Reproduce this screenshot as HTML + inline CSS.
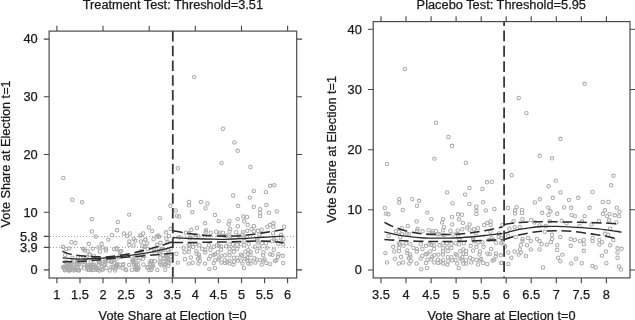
<!DOCTYPE html>
<html lang="en"><head><meta charset="utf-8"><title>Treatment and Placebo Tests</title>
<style>html,body{margin:0;padding:0;background:#fff;overflow:hidden}svg{display:block;will-change:transform}text{font-family:"Liberation Sans",sans-serif}</style></head>
<body>
<svg width="635" height="320" viewBox="0 0 635 320">
<rect width="635" height="320" fill="#fff"/>
<defs><clipPath id="cl"><rect x="49.1" y="31.1" width="247.6" height="246.9"/></clipPath><clipPath id="cr"><rect x="373.2" y="21.6" width="256.8" height="256.3"/></clipPath></defs>
<g fill="none" stroke="#ababab" stroke-width="1.05" clip-path="url(#cl)">
<circle cx="63.3" cy="177.9" r="1.7"/>
<circle cx="72.4" cy="199.7" r="1.7"/>
<circle cx="82.1" cy="202.3" r="1.7"/>
<circle cx="91.8" cy="219.1" r="1.7"/>
<circle cx="117.8" cy="221.9" r="1.7"/>
<circle cx="129.2" cy="214.6" r="1.7"/>
<circle cx="159.9" cy="218.1" r="1.7"/>
<circle cx="170.4" cy="205.8" r="1.7"/>
<circle cx="91.8" cy="231.5" r="1.7"/>
<circle cx="117.0" cy="230.3" r="1.7"/>
<circle cx="124.0" cy="233.5" r="1.7"/>
<circle cx="129.9" cy="233.5" r="1.7"/>
<circle cx="148.8" cy="227.5" r="1.7"/>
<circle cx="152.2" cy="230.9" r="1.7"/>
<circle cx="143.2" cy="233.5" r="1.7"/>
<circle cx="140.3" cy="235.5" r="1.7"/>
<circle cx="111.9" cy="234.9" r="1.7"/>
<circle cx="95.6" cy="236.5" r="1.7"/>
<circle cx="127.4" cy="235.9" r="1.7"/>
<circle cx="156.7" cy="236.5" r="1.7"/>
<circle cx="166.1" cy="232.3" r="1.7"/>
<circle cx="169.0" cy="235.9" r="1.7"/>
<circle cx="170.6" cy="228.9" r="1.7"/>
<circle cx="71.4" cy="242.2" r="1.7"/>
<circle cx="75.4" cy="242.8" r="1.7"/>
<circle cx="88.7" cy="243.8" r="1.7"/>
<circle cx="101.6" cy="243.8" r="1.7"/>
<circle cx="62.9" cy="246.8" r="1.7"/>
<circle cx="129.3" cy="241.4" r="1.7"/>
<circle cx="135.3" cy="240.8" r="1.7"/>
<circle cx="140.9" cy="241.4" r="1.7"/>
<circle cx="145.2" cy="239.8" r="1.7"/>
<circle cx="147.2" cy="243.4" r="1.7"/>
<circle cx="129.3" cy="244.8" r="1.7"/>
<circle cx="157.1" cy="244.8" r="1.7"/>
<circle cx="98.6" cy="247.4" r="1.7"/>
<circle cx="102.6" cy="247.4" r="1.7"/>
<circle cx="97.7" cy="269.7" r="1.7"/>
<circle cx="70.3" cy="270.1" r="1.7"/>
<circle cx="68.8" cy="270.4" r="1.7"/>
<circle cx="109.7" cy="270.4" r="1.7"/>
<circle cx="75.9" cy="269.8" r="1.7"/>
<circle cx="67.5" cy="270.1" r="1.7"/>
<circle cx="78.1" cy="270.1" r="1.7"/>
<circle cx="151.3" cy="269.8" r="1.7"/>
<circle cx="132.0" cy="269.8" r="1.7"/>
<circle cx="69.3" cy="270.2" r="1.7"/>
<circle cx="136.5" cy="270.1" r="1.7"/>
<circle cx="126.2" cy="270.1" r="1.7"/>
<circle cx="89.0" cy="269.9" r="1.7"/>
<circle cx="75.3" cy="269.6" r="1.7"/>
<circle cx="79.0" cy="270.4" r="1.7"/>
<circle cx="96.6" cy="269.8" r="1.7"/>
<circle cx="125.6" cy="269.5" r="1.7"/>
<circle cx="165.3" cy="269.7" r="1.7"/>
<circle cx="69.0" cy="269.7" r="1.7"/>
<circle cx="93.4" cy="269.7" r="1.7"/>
<circle cx="64.9" cy="270.3" r="1.7"/>
<circle cx="75.2" cy="269.6" r="1.7"/>
<circle cx="76.5" cy="270.0" r="1.7"/>
<circle cx="157.3" cy="270.0" r="1.7"/>
<circle cx="92.8" cy="270.1" r="1.7"/>
<circle cx="78.9" cy="270.2" r="1.7"/>
<circle cx="87.9" cy="269.8" r="1.7"/>
<circle cx="91.1" cy="270.0" r="1.7"/>
<circle cx="102.7" cy="269.4" r="1.7"/>
<circle cx="137.6" cy="269.8" r="1.7"/>
<circle cx="136.1" cy="269.4" r="1.7"/>
<circle cx="149.3" cy="270.0" r="1.7"/>
<circle cx="73.7" cy="270.4" r="1.7"/>
<circle cx="69.8" cy="270.3" r="1.7"/>
<circle cx="99.5" cy="270.5" r="1.7"/>
<circle cx="78.9" cy="270.1" r="1.7"/>
<circle cx="65.2" cy="269.8" r="1.7"/>
<circle cx="78.6" cy="270.1" r="1.7"/>
<circle cx="102.1" cy="269.5" r="1.7"/>
<circle cx="115.1" cy="270.4" r="1.7"/>
<circle cx="99.8" cy="262.7" r="1.7"/>
<circle cx="80.0" cy="261.9" r="1.7"/>
<circle cx="120.0" cy="264.7" r="1.7"/>
<circle cx="65.4" cy="261.7" r="1.7"/>
<circle cx="90.9" cy="267.3" r="1.7"/>
<circle cx="147.3" cy="266.9" r="1.7"/>
<circle cx="87.1" cy="266.0" r="1.7"/>
<circle cx="65.6" cy="266.5" r="1.7"/>
<circle cx="90.7" cy="261.8" r="1.7"/>
<circle cx="102.2" cy="266.9" r="1.7"/>
<circle cx="83.9" cy="264.1" r="1.7"/>
<circle cx="114.7" cy="262.9" r="1.7"/>
<circle cx="71.7" cy="262.2" r="1.7"/>
<circle cx="114.5" cy="263.0" r="1.7"/>
<circle cx="168.3" cy="265.7" r="1.7"/>
<circle cx="81.0" cy="267.4" r="1.7"/>
<circle cx="78.4" cy="261.7" r="1.7"/>
<circle cx="134.0" cy="264.7" r="1.7"/>
<circle cx="76.7" cy="261.7" r="1.7"/>
<circle cx="133.2" cy="262.0" r="1.7"/>
<circle cx="152.4" cy="266.7" r="1.7"/>
<circle cx="94.3" cy="264.4" r="1.7"/>
<circle cx="90.7" cy="267.5" r="1.7"/>
<circle cx="161.6" cy="265.3" r="1.7"/>
<circle cx="117.1" cy="264.8" r="1.7"/>
<circle cx="64.5" cy="267.2" r="1.7"/>
<circle cx="62.9" cy="267.3" r="1.7"/>
<circle cx="123.0" cy="264.9" r="1.7"/>
<circle cx="74.0" cy="266.7" r="1.7"/>
<circle cx="92.6" cy="264.9" r="1.7"/>
<circle cx="129.2" cy="264.9" r="1.7"/>
<circle cx="137.9" cy="264.8" r="1.7"/>
<circle cx="165.1" cy="264.6" r="1.7"/>
<circle cx="77.4" cy="265.4" r="1.7"/>
<circle cx="70.3" cy="268.0" r="1.7"/>
<circle cx="160.1" cy="263.5" r="1.7"/>
<circle cx="134.3" cy="262.3" r="1.7"/>
<circle cx="167.8" cy="261.9" r="1.7"/>
<circle cx="105.8" cy="261.6" r="1.7"/>
<circle cx="153.1" cy="265.5" r="1.7"/>
<circle cx="118.6" cy="267.1" r="1.7"/>
<circle cx="97.1" cy="268.3" r="1.7"/>
<circle cx="122.8" cy="268.3" r="1.7"/>
<circle cx="98.5" cy="264.9" r="1.7"/>
<circle cx="73.8" cy="268.2" r="1.7"/>
<circle cx="147.3" cy="267.6" r="1.7"/>
<circle cx="151.6" cy="267.4" r="1.7"/>
<circle cx="138.7" cy="268.1" r="1.7"/>
<circle cx="137.4" cy="268.0" r="1.7"/>
<circle cx="149.7" cy="262.5" r="1.7"/>
<circle cx="69.7" cy="265.3" r="1.7"/>
<circle cx="99.4" cy="262.0" r="1.7"/>
<circle cx="91.6" cy="264.8" r="1.7"/>
<circle cx="88.4" cy="267.3" r="1.7"/>
<circle cx="67.9" cy="266.3" r="1.7"/>
<circle cx="95.7" cy="266.4" r="1.7"/>
<circle cx="116.9" cy="266.1" r="1.7"/>
<circle cx="64.4" cy="268.4" r="1.7"/>
<circle cx="83.1" cy="262.0" r="1.7"/>
<circle cx="74.0" cy="265.5" r="1.7"/>
<circle cx="105.3" cy="263.7" r="1.7"/>
<circle cx="169.4" cy="262.7" r="1.7"/>
<circle cx="106.5" cy="268.1" r="1.7"/>
<circle cx="76.6" cy="263.3" r="1.7"/>
<circle cx="90.3" cy="267.9" r="1.7"/>
<circle cx="135.5" cy="266.8" r="1.7"/>
<circle cx="94.4" cy="267.4" r="1.7"/>
<circle cx="111.0" cy="261.8" r="1.7"/>
<circle cx="96.2" cy="268.5" r="1.7"/>
<circle cx="104.0" cy="265.0" r="1.7"/>
<circle cx="84.3" cy="268.4" r="1.7"/>
<circle cx="91.2" cy="265.7" r="1.7"/>
<circle cx="67.0" cy="266.4" r="1.7"/>
<circle cx="87.8" cy="264.8" r="1.7"/>
<circle cx="104.9" cy="261.6" r="1.7"/>
<circle cx="78.7" cy="264.0" r="1.7"/>
<circle cx="67.2" cy="262.3" r="1.7"/>
<circle cx="150.9" cy="264.8" r="1.7"/>
<circle cx="87.5" cy="267.5" r="1.7"/>
<circle cx="101.7" cy="262.7" r="1.7"/>
<circle cx="123.3" cy="264.1" r="1.7"/>
<circle cx="136.6" cy="268.4" r="1.7"/>
<circle cx="117.2" cy="263.9" r="1.7"/>
<circle cx="69.6" cy="266.7" r="1.7"/>
<circle cx="70.5" cy="263.4" r="1.7"/>
<circle cx="84.8" cy="261.7" r="1.7"/>
<circle cx="116.2" cy="265.1" r="1.7"/>
<circle cx="70.9" cy="266.7" r="1.7"/>
<circle cx="143.4" cy="264.5" r="1.7"/>
<circle cx="63.8" cy="266.6" r="1.7"/>
<circle cx="136.0" cy="264.9" r="1.7"/>
<circle cx="113.0" cy="267.6" r="1.7"/>
<circle cx="159.8" cy="261.7" r="1.7"/>
<circle cx="164.4" cy="265.3" r="1.7"/>
<circle cx="111.4" cy="267.0" r="1.7"/>
<circle cx="165.4" cy="264.4" r="1.7"/>
<circle cx="77.9" cy="261.9" r="1.7"/>
<circle cx="76.9" cy="264.9" r="1.7"/>
<circle cx="115.4" cy="268.4" r="1.7"/>
<circle cx="116.0" cy="266.4" r="1.7"/>
<circle cx="77.8" cy="257.2" r="1.7"/>
<circle cx="154.0" cy="251.4" r="1.7"/>
<circle cx="153.8" cy="249.0" r="1.7"/>
<circle cx="94.0" cy="256.2" r="1.7"/>
<circle cx="171.2" cy="256.6" r="1.7"/>
<circle cx="109.1" cy="260.9" r="1.7"/>
<circle cx="89.6" cy="254.6" r="1.7"/>
<circle cx="83.1" cy="248.6" r="1.7"/>
<circle cx="158.7" cy="253.0" r="1.7"/>
<circle cx="132.6" cy="260.9" r="1.7"/>
<circle cx="163.4" cy="255.1" r="1.7"/>
<circle cx="99.9" cy="251.5" r="1.7"/>
<circle cx="168.8" cy="252.6" r="1.7"/>
<circle cx="105.4" cy="259.3" r="1.7"/>
<circle cx="116.6" cy="249.2" r="1.7"/>
<circle cx="171.0" cy="259.6" r="1.7"/>
<circle cx="83.4" cy="256.9" r="1.7"/>
<circle cx="72.4" cy="258.0" r="1.7"/>
<circle cx="144.1" cy="255.9" r="1.7"/>
<circle cx="119.5" cy="256.9" r="1.7"/>
<circle cx="69.2" cy="248.4" r="1.7"/>
<circle cx="86.0" cy="258.2" r="1.7"/>
<circle cx="106.0" cy="248.6" r="1.7"/>
<circle cx="154.9" cy="261.2" r="1.7"/>
<circle cx="160.0" cy="253.6" r="1.7"/>
<circle cx="163.4" cy="249.9" r="1.7"/>
<circle cx="168.3" cy="260.1" r="1.7"/>
<circle cx="141.0" cy="251.2" r="1.7"/>
<circle cx="112.2" cy="261.0" r="1.7"/>
<circle cx="147.6" cy="249.1" r="1.7"/>
<circle cx="132.7" cy="259.8" r="1.7"/>
<circle cx="138.5" cy="260.6" r="1.7"/>
<circle cx="119.6" cy="256.3" r="1.7"/>
<circle cx="114.2" cy="258.2" r="1.7"/>
<circle cx="167.1" cy="257.4" r="1.7"/>
<circle cx="135.9" cy="258.0" r="1.7"/>
<circle cx="87.1" cy="256.9" r="1.7"/>
<circle cx="142.9" cy="258.8" r="1.7"/>
<circle cx="168.1" cy="250.4" r="1.7"/>
<circle cx="87.6" cy="251.2" r="1.7"/>
<circle cx="116.4" cy="258.5" r="1.7"/>
<circle cx="165.8" cy="256.2" r="1.7"/>
<circle cx="77.9" cy="260.7" r="1.7"/>
<circle cx="158.7" cy="248.0" r="1.7"/>
<circle cx="163.9" cy="259.0" r="1.7"/>
<circle cx="164.4" cy="261.1" r="1.7"/>
<circle cx="134.8" cy="256.5" r="1.7"/>
<circle cx="98.6" cy="261.5" r="1.7"/>
<circle cx="92.9" cy="248.6" r="1.7"/>
<circle cx="85.0" cy="250.4" r="1.7"/>
<circle cx="152.0" cy="260.9" r="1.7"/>
<circle cx="114.0" cy="249.1" r="1.7"/>
<circle cx="83.5" cy="249.4" r="1.7"/>
<circle cx="150.9" cy="261.0" r="1.7"/>
<circle cx="66.2" cy="249.1" r="1.7"/>
<circle cx="160.3" cy="257.8" r="1.7"/>
<circle cx="166.7" cy="258.0" r="1.7"/>
<circle cx="140.5" cy="257.8" r="1.7"/>
<circle cx="162.3" cy="248.7" r="1.7"/>
<circle cx="65.1" cy="255.1" r="1.7"/>
<circle cx="166.6" cy="256.3" r="1.7"/>
<circle cx="89.8" cy="254.8" r="1.7"/>
<circle cx="166.4" cy="238.7" r="1.7"/>
<circle cx="153.5" cy="239.2" r="1.7"/>
<circle cx="144.5" cy="247.1" r="1.7"/>
<circle cx="108.4" cy="239.6" r="1.7"/>
<circle cx="119.9" cy="252.0" r="1.7"/>
<circle cx="140.8" cy="235.6" r="1.7"/>
<circle cx="121.1" cy="250.9" r="1.7"/>
<circle cx="133.6" cy="245.4" r="1.7"/>
<circle cx="145.4" cy="239.6" r="1.7"/>
<circle cx="160.9" cy="250.5" r="1.7"/>
<circle cx="160.5" cy="242.8" r="1.7"/>
<circle cx="116.7" cy="248.3" r="1.7"/>
<circle cx="142.5" cy="245.7" r="1.7"/>
<circle cx="170.8" cy="248.6" r="1.7"/>
<circle cx="158.3" cy="235.4" r="1.7"/>
<circle cx="159.0" cy="236.8" r="1.7"/>
<circle cx="105.8" cy="250.5" r="1.7"/>
<circle cx="133.7" cy="239.1" r="1.7"/>
<circle cx="167.6" cy="242.3" r="1.7"/>
<circle cx="145.4" cy="246.2" r="1.7"/>
<circle cx="194.2" cy="77.1" r="1.7"/>
<circle cx="222.9" cy="128.7" r="1.7"/>
<circle cx="234.4" cy="142.4" r="1.7"/>
<circle cx="237.7" cy="150.8" r="1.7"/>
<circle cx="177.9" cy="168.2" r="1.7"/>
<circle cx="221.5" cy="163.1" r="1.7"/>
<circle cx="250.4" cy="167.0" r="1.7"/>
<circle cx="270.0" cy="185.8" r="1.7"/>
<circle cx="274.3" cy="185.3" r="1.7"/>
<circle cx="253.8" cy="191.1" r="1.7"/>
<circle cx="265.8" cy="192.1" r="1.7"/>
<circle cx="233.2" cy="195.5" r="1.7"/>
<circle cx="249.8" cy="197.6" r="1.7"/>
<circle cx="189.1" cy="201.9" r="1.7"/>
<circle cx="189.1" cy="205.3" r="1.7"/>
<circle cx="201.1" cy="201.9" r="1.7"/>
<circle cx="207.4" cy="203.5" r="1.7"/>
<circle cx="205.5" cy="208.2" r="1.7"/>
<circle cx="238.1" cy="205.9" r="1.7"/>
<circle cx="266.4" cy="204.9" r="1.7"/>
<circle cx="253.8" cy="206.7" r="1.7"/>
<circle cx="260.2" cy="209.2" r="1.7"/>
<circle cx="276.8" cy="211.4" r="1.7"/>
<circle cx="268.9" cy="212.7" r="1.7"/>
<circle cx="260.2" cy="213.1" r="1.7"/>
<circle cx="260.2" cy="216.1" r="1.7"/>
<circle cx="175.7" cy="210.4" r="1.7"/>
<circle cx="192.3" cy="212.3" r="1.7"/>
<circle cx="176.8" cy="215.7" r="1.7"/>
<circle cx="179.1" cy="216.5" r="1.7"/>
<circle cx="214.9" cy="214.9" r="1.7"/>
<circle cx="243.2" cy="216.5" r="1.7"/>
<circle cx="247.0" cy="216.9" r="1.7"/>
<circle cx="218.7" cy="221.1" r="1.7"/>
<circle cx="205.1" cy="223.3" r="1.7"/>
<circle cx="197.0" cy="227.7" r="1.7"/>
<circle cx="185.9" cy="232.7" r="1.7"/>
<circle cx="188.8" cy="233.2" r="1.7"/>
<circle cx="191.7" cy="235.7" r="1.7"/>
<circle cx="197.9" cy="235.7" r="1.7"/>
<circle cx="205.6" cy="232.2" r="1.7"/>
<circle cx="210.7" cy="232.7" r="1.7"/>
<circle cx="216.1" cy="231.7" r="1.7"/>
<circle cx="219.9" cy="232.7" r="1.7"/>
<circle cx="223.0" cy="232.7" r="1.7"/>
<circle cx="179.2" cy="237.2" r="1.7"/>
<circle cx="226.2" cy="235.7" r="1.7"/>
<circle cx="183.5" cy="247.7" r="1.7"/>
<circle cx="176.4" cy="253.7" r="1.7"/>
<circle cx="184.5" cy="252.2" r="1.7"/>
<circle cx="188.8" cy="248.7" r="1.7"/>
<circle cx="193.1" cy="246.7" r="1.7"/>
<circle cx="188.8" cy="251.7" r="1.7"/>
<circle cx="196.5" cy="251.2" r="1.7"/>
<circle cx="196.5" cy="253.7" r="1.7"/>
<circle cx="202.2" cy="248.7" r="1.7"/>
<circle cx="205.3" cy="249.7" r="1.7"/>
<circle cx="205.3" cy="252.2" r="1.7"/>
<circle cx="208.9" cy="245.2" r="1.7"/>
<circle cx="213.7" cy="246.7" r="1.7"/>
<circle cx="221.2" cy="246.4" r="1.7"/>
<circle cx="221.2" cy="249.7" r="1.7"/>
<circle cx="226.2" cy="246.2" r="1.7"/>
<circle cx="215.2" cy="254.2" r="1.7"/>
<circle cx="210.4" cy="256.2" r="1.7"/>
<circle cx="221.4" cy="255.7" r="1.7"/>
<circle cx="225.2" cy="255.2" r="1.7"/>
<circle cx="199.4" cy="257.2" r="1.7"/>
<circle cx="197.9" cy="258.7" r="1.7"/>
<circle cx="185.0" cy="259.2" r="1.7"/>
<circle cx="199.8" cy="261.1" r="1.7"/>
<circle cx="177.8" cy="262.6" r="1.7"/>
<circle cx="188.8" cy="263.6" r="1.7"/>
<circle cx="198.4" cy="263.6" r="1.7"/>
<circle cx="205.1" cy="263.6" r="1.7"/>
<circle cx="213.7" cy="263.1" r="1.7"/>
<circle cx="215.2" cy="260.1" r="1.7"/>
<circle cx="218.5" cy="259.6" r="1.7"/>
<circle cx="221.4" cy="262.6" r="1.7"/>
<circle cx="224.7" cy="260.1" r="1.7"/>
<circle cx="225.2" cy="263.1" r="1.7"/>
<circle cx="209.4" cy="269.1" r="1.7"/>
<circle cx="214.9" cy="268.1" r="1.7"/>
<circle cx="199.4" cy="245.2" r="1.7"/>
<circle cx="195.5" cy="244.2" r="1.7"/>
<circle cx="189.8" cy="245.2" r="1.7"/>
<circle cx="237.7" cy="219.1" r="1.7"/>
<circle cx="229.5" cy="221.1" r="1.7"/>
<circle cx="228.6" cy="224.3" r="1.7"/>
<circle cx="244.1" cy="221.3" r="1.7"/>
<circle cx="247.7" cy="224.8" r="1.7"/>
<circle cx="237.9" cy="226.2" r="1.7"/>
<circle cx="253.9" cy="226.2" r="1.7"/>
<circle cx="251.6" cy="229.2" r="1.7"/>
<circle cx="247.2" cy="230.7" r="1.7"/>
<circle cx="253.9" cy="231.2" r="1.7"/>
<circle cx="242.9" cy="232.2" r="1.7"/>
<circle cx="236.2" cy="232.2" r="1.7"/>
<circle cx="229.5" cy="231.7" r="1.7"/>
<circle cx="261.6" cy="229.7" r="1.7"/>
<circle cx="267.4" cy="226.7" r="1.7"/>
<circle cx="270.2" cy="224.8" r="1.7"/>
<circle cx="273.4" cy="223.3" r="1.7"/>
<circle cx="273.4" cy="226.7" r="1.7"/>
<circle cx="273.1" cy="233.2" r="1.7"/>
<circle cx="284.1" cy="226.7" r="1.7"/>
<circle cx="280.8" cy="238.2" r="1.7"/>
<circle cx="283.2" cy="239.2" r="1.7"/>
<circle cx="229.5" cy="244.2" r="1.7"/>
<circle cx="232.9" cy="244.2" r="1.7"/>
<circle cx="237.2" cy="244.7" r="1.7"/>
<circle cx="241.0" cy="244.2" r="1.7"/>
<circle cx="229.5" cy="248.7" r="1.7"/>
<circle cx="229.5" cy="252.2" r="1.7"/>
<circle cx="229.5" cy="255.2" r="1.7"/>
<circle cx="233.4" cy="248.2" r="1.7"/>
<circle cx="233.8" cy="251.7" r="1.7"/>
<circle cx="237.2" cy="248.7" r="1.7"/>
<circle cx="233.8" cy="257.7" r="1.7"/>
<circle cx="237.2" cy="257.7" r="1.7"/>
<circle cx="229.5" cy="260.6" r="1.7"/>
<circle cx="229.5" cy="263.6" r="1.7"/>
<circle cx="233.4" cy="264.6" r="1.7"/>
<circle cx="237.9" cy="260.6" r="1.7"/>
<circle cx="241.0" cy="254.7" r="1.7"/>
<circle cx="241.0" cy="260.6" r="1.7"/>
<circle cx="242.5" cy="263.6" r="1.7"/>
<circle cx="243.9" cy="268.1" r="1.7"/>
<circle cx="245.3" cy="251.7" r="1.7"/>
<circle cx="248.2" cy="250.2" r="1.7"/>
<circle cx="250.6" cy="251.7" r="1.7"/>
<circle cx="248.2" cy="254.2" r="1.7"/>
<circle cx="250.6" cy="254.7" r="1.7"/>
<circle cx="247.2" cy="257.7" r="1.7"/>
<circle cx="247.2" cy="260.6" r="1.7"/>
<circle cx="250.6" cy="260.6" r="1.7"/>
<circle cx="248.2" cy="263.6" r="1.7"/>
<circle cx="250.6" cy="263.6" r="1.7"/>
<circle cx="254.9" cy="246.7" r="1.7"/>
<circle cx="260.2" cy="247.7" r="1.7"/>
<circle cx="266.7" cy="247.7" r="1.7"/>
<circle cx="273.8" cy="249.7" r="1.7"/>
<circle cx="278.4" cy="243.7" r="1.7"/>
<circle cx="283.2" cy="244.2" r="1.7"/>
<circle cx="257.1" cy="251.2" r="1.7"/>
<circle cx="263.5" cy="252.2" r="1.7"/>
<circle cx="263.0" cy="255.2" r="1.7"/>
<circle cx="270.2" cy="254.2" r="1.7"/>
<circle cx="278.4" cy="254.2" r="1.7"/>
<circle cx="256.8" cy="259.6" r="1.7"/>
<circle cx="260.2" cy="260.1" r="1.7"/>
<circle cx="263.5" cy="260.6" r="1.7"/>
<circle cx="255.4" cy="262.6" r="1.7"/>
<circle cx="261.6" cy="264.6" r="1.7"/>
<circle cx="266.4" cy="263.1" r="1.7"/>
<circle cx="270.2" cy="264.1" r="1.7"/>
<circle cx="276.5" cy="260.1" r="1.7"/>
<circle cx="283.2" cy="263.1" r="1.7"/>
<circle cx="254.4" cy="258.2" r="1.7"/>
<circle cx="248.7" cy="244.2" r="1.7"/>
<circle cx="258.3" cy="242.7" r="1.7"/>
<circle cx="262.1" cy="243.2" r="1.7"/>
<circle cx="265.9" cy="243.2" r="1.7"/>
<circle cx="245.4" cy="259.0" r="1.7"/>
<circle cx="210.4" cy="249.7" r="1.7"/>
<circle cx="208.8" cy="259.0" r="1.7"/>
<circle cx="234.2" cy="261.7" r="1.7"/>
<circle cx="217.7" cy="252.2" r="1.7"/>
<circle cx="219.3" cy="257.4" r="1.7"/>
<circle cx="278.0" cy="256.8" r="1.7"/>
<circle cx="213.6" cy="254.8" r="1.7"/>
<circle cx="282.7" cy="255.8" r="1.7"/>
<circle cx="272.4" cy="254.7" r="1.7"/>
<circle cx="218.9" cy="245.7" r="1.7"/>
<circle cx="192.6" cy="262.7" r="1.7"/>
<circle cx="244.2" cy="245.1" r="1.7"/>
<circle cx="242.2" cy="255.7" r="1.7"/>
<circle cx="190.8" cy="257.4" r="1.7"/>
<circle cx="275.0" cy="260.8" r="1.7"/>
<circle cx="188.7" cy="244.5" r="1.7"/>
<circle cx="227.2" cy="261.9" r="1.7"/>
<circle cx="216.9" cy="245.2" r="1.7"/>
<circle cx="199.0" cy="255.0" r="1.7"/>
<circle cx="264.6" cy="259.4" r="1.7"/>
<circle cx="219.3" cy="234.5" r="1.7"/>
<circle cx="190.0" cy="238.2" r="1.7"/>
<circle cx="272.1" cy="241.1" r="1.7"/>
<circle cx="257.3" cy="241.1" r="1.7"/>
<circle cx="243.4" cy="237.4" r="1.7"/>
<circle cx="238.7" cy="235.7" r="1.7"/>
<circle cx="224.3" cy="235.6" r="1.7"/>
<circle cx="242.6" cy="234.8" r="1.7"/>
<circle cx="257.9" cy="230.8" r="1.7"/>
<circle cx="196.0" cy="235.1" r="1.7"/>
<circle cx="244.4" cy="240.5" r="1.7"/>
<circle cx="259.4" cy="234.5" r="1.7"/>
<circle cx="230.4" cy="236.4" r="1.7"/>
<circle cx="191.3" cy="229.8" r="1.7"/>
<circle cx="281.1" cy="234.8" r="1.7"/>
<circle cx="274.1" cy="239.3" r="1.7"/>
<circle cx="275.7" cy="240.7" r="1.7"/>
<circle cx="257.2" cy="239.4" r="1.7"/>
<circle cx="206.1" cy="230.3" r="1.7"/>
<circle cx="230.2" cy="228.9" r="1.7"/>
</g>
<g fill="none" stroke="#ababab" stroke-width="1.05" clip-path="url(#cr)">
<circle cx="404.8" cy="68.9" r="1.7"/>
<circle cx="435.9" cy="122.7" r="1.7"/>
<circle cx="448.4" cy="137.0" r="1.7"/>
<circle cx="452.0" cy="145.8" r="1.7"/>
<circle cx="387.1" cy="163.9" r="1.7"/>
<circle cx="434.4" cy="158.6" r="1.7"/>
<circle cx="465.8" cy="162.7" r="1.7"/>
<circle cx="487.0" cy="182.3" r="1.7"/>
<circle cx="491.8" cy="181.7" r="1.7"/>
<circle cx="469.4" cy="187.9" r="1.7"/>
<circle cx="482.5" cy="188.9" r="1.7"/>
<circle cx="447.1" cy="192.4" r="1.7"/>
<circle cx="465.1" cy="194.6" r="1.7"/>
<circle cx="399.2" cy="199.1" r="1.7"/>
<circle cx="399.2" cy="202.6" r="1.7"/>
<circle cx="412.3" cy="199.1" r="1.7"/>
<circle cx="419.1" cy="200.8" r="1.7"/>
<circle cx="417.0" cy="205.7" r="1.7"/>
<circle cx="452.5" cy="203.2" r="1.7"/>
<circle cx="483.2" cy="202.2" r="1.7"/>
<circle cx="469.4" cy="204.0" r="1.7"/>
<circle cx="476.4" cy="206.7" r="1.7"/>
<circle cx="494.4" cy="209.0" r="1.7"/>
<circle cx="485.8" cy="210.4" r="1.7"/>
<circle cx="476.4" cy="210.8" r="1.7"/>
<circle cx="476.4" cy="213.9" r="1.7"/>
<circle cx="384.7" cy="207.9" r="1.7"/>
<circle cx="402.7" cy="210.0" r="1.7"/>
<circle cx="385.9" cy="213.5" r="1.7"/>
<circle cx="388.4" cy="214.3" r="1.7"/>
<circle cx="427.3" cy="212.6" r="1.7"/>
<circle cx="458.0" cy="214.3" r="1.7"/>
<circle cx="462.1" cy="214.7" r="1.7"/>
<circle cx="431.4" cy="219.1" r="1.7"/>
<circle cx="416.6" cy="221.4" r="1.7"/>
<circle cx="407.8" cy="226.0" r="1.7"/>
<circle cx="395.8" cy="231.2" r="1.7"/>
<circle cx="398.9" cy="231.8" r="1.7"/>
<circle cx="402.1" cy="234.3" r="1.7"/>
<circle cx="408.8" cy="234.3" r="1.7"/>
<circle cx="417.1" cy="230.7" r="1.7"/>
<circle cx="422.6" cy="231.2" r="1.7"/>
<circle cx="428.6" cy="230.2" r="1.7"/>
<circle cx="432.7" cy="231.2" r="1.7"/>
<circle cx="436.1" cy="231.2" r="1.7"/>
<circle cx="388.6" cy="235.9" r="1.7"/>
<circle cx="439.5" cy="234.3" r="1.7"/>
<circle cx="393.2" cy="246.8" r="1.7"/>
<circle cx="385.4" cy="253.1" r="1.7"/>
<circle cx="394.3" cy="251.5" r="1.7"/>
<circle cx="398.9" cy="247.9" r="1.7"/>
<circle cx="403.6" cy="245.8" r="1.7"/>
<circle cx="398.9" cy="251.0" r="1.7"/>
<circle cx="407.3" cy="250.5" r="1.7"/>
<circle cx="407.3" cy="253.1" r="1.7"/>
<circle cx="413.5" cy="247.9" r="1.7"/>
<circle cx="416.8" cy="248.9" r="1.7"/>
<circle cx="416.8" cy="251.5" r="1.7"/>
<circle cx="420.8" cy="244.2" r="1.7"/>
<circle cx="426.0" cy="245.8" r="1.7"/>
<circle cx="434.1" cy="245.5" r="1.7"/>
<circle cx="434.1" cy="248.9" r="1.7"/>
<circle cx="439.5" cy="245.3" r="1.7"/>
<circle cx="427.5" cy="253.6" r="1.7"/>
<circle cx="422.3" cy="255.7" r="1.7"/>
<circle cx="434.3" cy="255.2" r="1.7"/>
<circle cx="438.4" cy="254.6" r="1.7"/>
<circle cx="410.4" cy="256.7" r="1.7"/>
<circle cx="408.8" cy="258.3" r="1.7"/>
<circle cx="394.8" cy="258.8" r="1.7"/>
<circle cx="410.9" cy="260.9" r="1.7"/>
<circle cx="387.0" cy="262.4" r="1.7"/>
<circle cx="398.9" cy="263.5" r="1.7"/>
<circle cx="409.3" cy="263.5" r="1.7"/>
<circle cx="416.6" cy="263.5" r="1.7"/>
<circle cx="426.0" cy="262.9" r="1.7"/>
<circle cx="427.5" cy="259.8" r="1.7"/>
<circle cx="431.2" cy="259.3" r="1.7"/>
<circle cx="434.3" cy="262.4" r="1.7"/>
<circle cx="437.9" cy="259.8" r="1.7"/>
<circle cx="438.4" cy="262.9" r="1.7"/>
<circle cx="421.3" cy="269.2" r="1.7"/>
<circle cx="427.2" cy="268.1" r="1.7"/>
<circle cx="410.4" cy="244.2" r="1.7"/>
<circle cx="406.2" cy="243.2" r="1.7"/>
<circle cx="400.0" cy="244.2" r="1.7"/>
<circle cx="452.0" cy="217.0" r="1.7"/>
<circle cx="443.1" cy="219.1" r="1.7"/>
<circle cx="442.1" cy="222.4" r="1.7"/>
<circle cx="458.9" cy="219.3" r="1.7"/>
<circle cx="462.9" cy="222.9" r="1.7"/>
<circle cx="452.3" cy="224.5" r="1.7"/>
<circle cx="469.6" cy="224.5" r="1.7"/>
<circle cx="467.0" cy="227.6" r="1.7"/>
<circle cx="462.3" cy="229.2" r="1.7"/>
<circle cx="469.6" cy="229.7" r="1.7"/>
<circle cx="457.7" cy="230.7" r="1.7"/>
<circle cx="450.4" cy="230.7" r="1.7"/>
<circle cx="443.1" cy="230.2" r="1.7"/>
<circle cx="477.9" cy="228.1" r="1.7"/>
<circle cx="484.2" cy="225.0" r="1.7"/>
<circle cx="487.3" cy="222.9" r="1.7"/>
<circle cx="490.7" cy="221.4" r="1.7"/>
<circle cx="490.7" cy="225.0" r="1.7"/>
<circle cx="490.4" cy="231.8" r="1.7"/>
<circle cx="502.4" cy="225.0" r="1.7"/>
<circle cx="498.7" cy="236.9" r="1.7"/>
<circle cx="501.3" cy="238.0" r="1.7"/>
<circle cx="443.1" cy="243.2" r="1.7"/>
<circle cx="446.8" cy="243.2" r="1.7"/>
<circle cx="451.4" cy="243.7" r="1.7"/>
<circle cx="455.6" cy="243.2" r="1.7"/>
<circle cx="443.1" cy="247.9" r="1.7"/>
<circle cx="443.1" cy="251.5" r="1.7"/>
<circle cx="443.1" cy="254.6" r="1.7"/>
<circle cx="447.3" cy="247.4" r="1.7"/>
<circle cx="447.8" cy="251.0" r="1.7"/>
<circle cx="451.4" cy="247.9" r="1.7"/>
<circle cx="447.8" cy="257.2" r="1.7"/>
<circle cx="451.4" cy="257.2" r="1.7"/>
<circle cx="443.1" cy="260.3" r="1.7"/>
<circle cx="443.1" cy="263.5" r="1.7"/>
<circle cx="447.3" cy="264.5" r="1.7"/>
<circle cx="452.3" cy="260.3" r="1.7"/>
<circle cx="455.6" cy="254.1" r="1.7"/>
<circle cx="455.6" cy="260.3" r="1.7"/>
<circle cx="457.2" cy="263.5" r="1.7"/>
<circle cx="458.7" cy="268.1" r="1.7"/>
<circle cx="460.3" cy="251.0" r="1.7"/>
<circle cx="463.4" cy="249.4" r="1.7"/>
<circle cx="466.0" cy="251.0" r="1.7"/>
<circle cx="463.4" cy="253.6" r="1.7"/>
<circle cx="466.0" cy="254.1" r="1.7"/>
<circle cx="462.3" cy="257.2" r="1.7"/>
<circle cx="462.3" cy="260.3" r="1.7"/>
<circle cx="466.0" cy="260.3" r="1.7"/>
<circle cx="463.4" cy="263.5" r="1.7"/>
<circle cx="466.0" cy="263.5" r="1.7"/>
<circle cx="470.7" cy="245.8" r="1.7"/>
<circle cx="476.4" cy="246.8" r="1.7"/>
<circle cx="483.5" cy="246.8" r="1.7"/>
<circle cx="491.1" cy="248.9" r="1.7"/>
<circle cx="496.1" cy="242.7" r="1.7"/>
<circle cx="501.3" cy="243.2" r="1.7"/>
<circle cx="505.0" cy="246.8" r="1.7"/>
<circle cx="473.1" cy="250.5" r="1.7"/>
<circle cx="480.0" cy="251.5" r="1.7"/>
<circle cx="479.5" cy="254.6" r="1.7"/>
<circle cx="487.3" cy="253.6" r="1.7"/>
<circle cx="496.1" cy="253.6" r="1.7"/>
<circle cx="472.7" cy="259.3" r="1.7"/>
<circle cx="476.4" cy="259.8" r="1.7"/>
<circle cx="480.0" cy="260.3" r="1.7"/>
<circle cx="471.2" cy="262.4" r="1.7"/>
<circle cx="477.9" cy="264.5" r="1.7"/>
<circle cx="483.1" cy="262.9" r="1.7"/>
<circle cx="487.3" cy="264.0" r="1.7"/>
<circle cx="494.1" cy="259.8" r="1.7"/>
<circle cx="501.3" cy="262.9" r="1.7"/>
<circle cx="470.1" cy="257.8" r="1.7"/>
<circle cx="463.9" cy="243.2" r="1.7"/>
<circle cx="474.3" cy="241.6" r="1.7"/>
<circle cx="478.5" cy="242.2" r="1.7"/>
<circle cx="482.6" cy="242.2" r="1.7"/>
<circle cx="460.4" cy="258.6" r="1.7"/>
<circle cx="422.4" cy="248.9" r="1.7"/>
<circle cx="420.6" cy="258.6" r="1.7"/>
<circle cx="448.2" cy="261.5" r="1.7"/>
<circle cx="430.3" cy="251.5" r="1.7"/>
<circle cx="432.0" cy="257.0" r="1.7"/>
<circle cx="495.7" cy="256.4" r="1.7"/>
<circle cx="425.9" cy="254.3" r="1.7"/>
<circle cx="500.8" cy="255.3" r="1.7"/>
<circle cx="489.7" cy="254.1" r="1.7"/>
<circle cx="431.6" cy="244.7" r="1.7"/>
<circle cx="403.1" cy="262.5" r="1.7"/>
<circle cx="459.1" cy="244.2" r="1.7"/>
<circle cx="456.9" cy="255.2" r="1.7"/>
<circle cx="401.1" cy="257.0" r="1.7"/>
<circle cx="492.5" cy="260.6" r="1.7"/>
<circle cx="398.8" cy="243.5" r="1.7"/>
<circle cx="440.6" cy="261.7" r="1.7"/>
<circle cx="429.5" cy="244.3" r="1.7"/>
<circle cx="410.0" cy="254.5" r="1.7"/>
<circle cx="481.2" cy="259.0" r="1.7"/>
<circle cx="432.1" cy="233.0" r="1.7"/>
<circle cx="400.2" cy="236.9" r="1.7"/>
<circle cx="489.4" cy="239.9" r="1.7"/>
<circle cx="473.3" cy="240.0" r="1.7"/>
<circle cx="458.2" cy="236.1" r="1.7"/>
<circle cx="453.1" cy="234.4" r="1.7"/>
<circle cx="437.5" cy="234.2" r="1.7"/>
<circle cx="457.3" cy="233.4" r="1.7"/>
<circle cx="474.0" cy="229.2" r="1.7"/>
<circle cx="406.7" cy="233.7" r="1.7"/>
<circle cx="459.3" cy="239.3" r="1.7"/>
<circle cx="475.6" cy="233.1" r="1.7"/>
<circle cx="444.1" cy="235.1" r="1.7"/>
<circle cx="401.7" cy="228.1" r="1.7"/>
<circle cx="499.1" cy="233.4" r="1.7"/>
<circle cx="491.5" cy="238.1" r="1.7"/>
<circle cx="493.2" cy="239.6" r="1.7"/>
<circle cx="473.1" cy="238.2" r="1.7"/>
<circle cx="417.7" cy="228.7" r="1.7"/>
<circle cx="443.9" cy="227.2" r="1.7"/>
<circle cx="584.6" cy="83.8" r="1.7"/>
<circle cx="518.7" cy="97.9" r="1.7"/>
<circle cx="526.4" cy="113.1" r="1.7"/>
<circle cx="560.5" cy="138.8" r="1.7"/>
<circle cx="539.7" cy="155.8" r="1.7"/>
<circle cx="552.0" cy="158.3" r="1.7"/>
<circle cx="511.6" cy="175.2" r="1.7"/>
<circle cx="613.5" cy="175.8" r="1.7"/>
<circle cx="555.7" cy="180.6" r="1.7"/>
<circle cx="611.2" cy="185.3" r="1.7"/>
<circle cx="548.6" cy="186.2" r="1.7"/>
<circle cx="560.5" cy="192.4" r="1.7"/>
<circle cx="592.5" cy="192.0" r="1.7"/>
<circle cx="552.8" cy="197.8" r="1.7"/>
<circle cx="539.7" cy="199.3" r="1.7"/>
<circle cx="534.9" cy="202.4" r="1.7"/>
<circle cx="569.0" cy="199.9" r="1.7"/>
<circle cx="578.2" cy="197.8" r="1.7"/>
<circle cx="602.7" cy="202.0" r="1.7"/>
<circle cx="608.5" cy="202.0" r="1.7"/>
<circle cx="507.9" cy="208.0" r="1.7"/>
<circle cx="516.6" cy="207.2" r="1.7"/>
<circle cx="515.0" cy="210.3" r="1.7"/>
<circle cx="522.0" cy="209.9" r="1.7"/>
<circle cx="515.0" cy="213.4" r="1.7"/>
<circle cx="522.0" cy="213.0" r="1.7"/>
<circle cx="548.4" cy="207.6" r="1.7"/>
<circle cx="550.5" cy="211.3" r="1.7"/>
<circle cx="542.2" cy="212.8" r="1.7"/>
<circle cx="548.4" cy="214.9" r="1.7"/>
<circle cx="557.2" cy="213.8" r="1.7"/>
<circle cx="564.2" cy="207.4" r="1.7"/>
<circle cx="571.3" cy="207.8" r="1.7"/>
<circle cx="589.6" cy="207.8" r="1.7"/>
<circle cx="571.7" cy="214.9" r="1.7"/>
<circle cx="574.8" cy="216.1" r="1.7"/>
<circle cx="584.6" cy="216.1" r="1.7"/>
<circle cx="605.0" cy="210.3" r="1.7"/>
<circle cx="602.9" cy="213.8" r="1.7"/>
<circle cx="609.6" cy="214.0" r="1.7"/>
<circle cx="616.8" cy="207.6" r="1.7"/>
<circle cx="619.5" cy="211.7" r="1.7"/>
<circle cx="614.8" cy="215.3" r="1.7"/>
<circle cx="607.1" cy="216.1" r="1.7"/>
<circle cx="618.9" cy="216.1" r="1.7"/>
<circle cx="513.5" cy="221.3" r="1.7"/>
<circle cx="522.5" cy="219.2" r="1.7"/>
<circle cx="531.2" cy="219.9" r="1.7"/>
<circle cx="534.3" cy="222.4" r="1.7"/>
<circle cx="549.9" cy="221.3" r="1.7"/>
<circle cx="561.7" cy="220.7" r="1.7"/>
<circle cx="566.5" cy="223.4" r="1.7"/>
<circle cx="582.1" cy="221.3" r="1.7"/>
<circle cx="598.8" cy="220.9" r="1.7"/>
<circle cx="609.1" cy="220.3" r="1.7"/>
<circle cx="616.4" cy="222.4" r="1.7"/>
<circle cx="509.4" cy="228.6" r="1.7"/>
<circle cx="514.6" cy="227.1" r="1.7"/>
<circle cx="519.8" cy="227.1" r="1.7"/>
<circle cx="539.5" cy="225.5" r="1.7"/>
<circle cx="545.7" cy="225.9" r="1.7"/>
<circle cx="579.6" cy="225.9" r="1.7"/>
<circle cx="591.5" cy="224.4" r="1.7"/>
<circle cx="610.2" cy="228.6" r="1.7"/>
<circle cx="605.0" cy="233.8" r="1.7"/>
<circle cx="501.7" cy="237.9" r="1.7"/>
<circle cx="508.3" cy="235.9" r="1.7"/>
<circle cx="515.6" cy="236.9" r="1.7"/>
<circle cx="522.5" cy="239.0" r="1.7"/>
<circle cx="528.1" cy="237.9" r="1.7"/>
<circle cx="537.0" cy="239.0" r="1.7"/>
<circle cx="544.7" cy="231.7" r="1.7"/>
<circle cx="552.0" cy="234.8" r="1.7"/>
<circle cx="552.0" cy="239.0" r="1.7"/>
<circle cx="560.3" cy="236.9" r="1.7"/>
<circle cx="570.7" cy="239.0" r="1.7"/>
<circle cx="574.8" cy="240.0" r="1.7"/>
<circle cx="580.0" cy="241.1" r="1.7"/>
<circle cx="583.8" cy="240.0" r="1.7"/>
<circle cx="592.5" cy="237.9" r="1.7"/>
<circle cx="592.5" cy="241.1" r="1.7"/>
<circle cx="599.4" cy="240.0" r="1.7"/>
<circle cx="601.9" cy="242.1" r="1.7"/>
<circle cx="608.1" cy="234.8" r="1.7"/>
<circle cx="613.3" cy="240.0" r="1.7"/>
<circle cx="502.5" cy="242.1" r="1.7"/>
<circle cx="505.2" cy="246.3" r="1.7"/>
<circle cx="522.5" cy="241.1" r="1.7"/>
<circle cx="530.8" cy="241.1" r="1.7"/>
<circle cx="539.5" cy="241.1" r="1.7"/>
<circle cx="541.6" cy="244.2" r="1.7"/>
<circle cx="546.8" cy="244.6" r="1.7"/>
<circle cx="550.9" cy="242.1" r="1.7"/>
<circle cx="557.2" cy="245.2" r="1.7"/>
<circle cx="570.7" cy="245.8" r="1.7"/>
<circle cx="583.8" cy="244.2" r="1.7"/>
<circle cx="599.4" cy="244.6" r="1.7"/>
<circle cx="610.2" cy="245.2" r="1.7"/>
<circle cx="520.8" cy="245.2" r="1.7"/>
<circle cx="519.8" cy="249.4" r="1.7"/>
<circle cx="527.0" cy="245.2" r="1.7"/>
<circle cx="530.8" cy="249.4" r="1.7"/>
<circle cx="539.5" cy="249.4" r="1.7"/>
<circle cx="557.2" cy="250.0" r="1.7"/>
<circle cx="583.8" cy="250.8" r="1.7"/>
<circle cx="606.0" cy="251.5" r="1.7"/>
<circle cx="617.5" cy="248.3" r="1.7"/>
<circle cx="621.6" cy="248.8" r="1.7"/>
<circle cx="617.5" cy="252.5" r="1.7"/>
<circle cx="508.3" cy="252.5" r="1.7"/>
<circle cx="514.6" cy="251.5" r="1.7"/>
<circle cx="520.8" cy="252.5" r="1.7"/>
<circle cx="526.0" cy="256.0" r="1.7"/>
<circle cx="511.4" cy="257.7" r="1.7"/>
<circle cx="518.7" cy="254.6" r="1.7"/>
<circle cx="562.4" cy="254.6" r="1.7"/>
<circle cx="558.2" cy="257.7" r="1.7"/>
<circle cx="560.3" cy="261.2" r="1.7"/>
<circle cx="575.9" cy="258.7" r="1.7"/>
<circle cx="601.9" cy="255.6" r="1.7"/>
<circle cx="617.5" cy="257.7" r="1.7"/>
<circle cx="501.7" cy="262.9" r="1.7"/>
<circle cx="508.3" cy="263.9" r="1.7"/>
<circle cx="543.0" cy="267.5" r="1.7"/>
<circle cx="571.3" cy="263.5" r="1.7"/>
<circle cx="581.7" cy="263.3" r="1.7"/>
<circle cx="592.5" cy="266.0" r="1.7"/>
<circle cx="595.6" cy="267.5" r="1.7"/>
<circle cx="606.4" cy="263.3" r="1.7"/>
<circle cx="618.9" cy="266.4" r="1.7"/>
<circle cx="621.0" cy="269.5" r="1.7"/>
</g>
<line x1="50" y1="236.5" x2="296.7" y2="236.5" stroke="#a2a2a2" stroke-width="1" stroke-dasharray="1 2"/>
<line x1="50" y1="247.5" x2="296.7" y2="247.5" stroke="#a2a2a2" stroke-width="1" stroke-dasharray="1 2"/>
<line x1="172.8" y1="31.1" x2="172.8" y2="278.0" stroke="#383838" stroke-width="1.8" stroke-dasharray="10.4 4.35"/>
<line x1="504.1" y1="21.6" x2="504.1" y2="277.9" stroke="#383838" stroke-width="1.8" stroke-dasharray="10.85 4.53" stroke-dashoffset="6.5"/>
<path d="M62.5,257.9 C65.3,258.1 74.1,259.1 79.5,259.2 C84.9,259.3 89.8,258.9 95.0,258.6 C100.2,258.3 105.5,257.9 111.0,257.4 C116.5,256.9 122.2,256.3 128.0,255.6 C133.8,254.9 140.3,254.1 145.6,253.2 C150.9,252.3 155.5,251.3 160.0,250.2 C164.5,249.1 170.5,247.4 172.6,246.8" fill="none" stroke="#2a2a2a" stroke-width="1.3"/>
<path d="M62.5,251.3 C64.0,251.9 67.7,253.8 71.6,254.6 C75.5,255.4 81.1,255.9 85.8,256.3 C90.5,256.7 95.8,256.8 100.0,256.9 C104.2,256.9 106.3,257.1 111.0,256.6 C115.7,256.1 122.2,255.1 128.0,254.0 C133.8,252.9 140.3,251.3 145.6,250.0 C150.9,248.7 155.5,247.4 160.0,246.0 C164.5,244.6 170.5,242.5 172.6,241.8" fill="none" stroke="#2a2a2a" stroke-width="1.55" stroke-dasharray="9.8 4.8"/>
<path d="M62.5,261.9 C65.3,261.8 74.1,261.8 79.5,261.5 C84.9,261.2 89.8,260.7 95.0,260.2 C100.2,259.7 105.5,259.0 111.0,258.5 C116.5,258.0 122.2,257.6 128.0,257.1 C133.8,256.6 140.3,256.1 145.6,255.6 C150.9,255.1 155.5,254.8 160.0,254.4 C164.5,254.0 170.5,253.5 172.6,253.3" fill="none" stroke="#2a2a2a" stroke-width="1.55" stroke-dasharray="9.8 4.8"/>
<path d="M172.9,237.6 C175.8,237.8 184.2,238.3 190.0,238.5 C195.8,238.7 202.2,238.9 208.0,239.0 C213.8,239.1 219.5,239.4 225.0,239.3 C230.5,239.2 235.8,239.0 241.0,238.7 C246.2,238.4 251.7,237.9 256.5,237.6 C261.3,237.3 265.5,237.2 270.0,236.9 C274.5,236.7 281.3,236.2 283.6,236.1" fill="none" stroke="#2a2a2a" stroke-width="1.3"/>
<path d="M173.1,230.8 C174.7,231.1 178.6,231.9 182.6,232.5 C186.6,233.1 191.9,234.0 197.0,234.6 C202.1,235.2 207.8,235.7 213.0,235.9 C218.2,236.2 223.3,236.1 228.0,236.1 C232.7,236.1 236.3,236.1 241.0,235.7 C245.7,235.3 251.0,234.6 256.0,233.9 C261.0,233.2 266.4,232.3 271.0,231.6 C275.6,230.8 281.5,229.8 283.6,229.4" fill="none" stroke="#2a2a2a" stroke-width="1.55" stroke-dasharray="9.8 4.8"/>
<path d="M173.1,242.4 C175.9,242.4 184.2,242.6 190.0,242.6 C195.8,242.6 202.2,242.3 208.0,242.2 C213.8,242.1 219.5,242.1 225.0,242.0 C230.5,241.9 235.8,241.8 241.0,241.6 C246.2,241.4 251.5,241.0 256.5,241.0 C261.5,241.0 266.5,241.1 271.0,241.4 C275.5,241.7 281.5,242.5 283.6,242.7" fill="none" stroke="#2a2a2a" stroke-width="1.55" stroke-dasharray="9.8 4.8"/>
<path d="M384.4,231.8 C386.2,232.2 391.2,233.5 395.0,234.3 C398.8,235.1 402.5,235.8 407.3,236.4 C412.1,237.0 418.4,237.7 423.9,238.0 C429.3,238.3 435.0,238.2 440.0,238.2 C445.0,238.2 449.0,238.2 454.0,238.0 C459.0,237.8 464.7,237.4 470.0,237.0 C475.3,236.6 480.6,236.0 486.0,235.4 C491.4,234.8 499.8,233.8 502.5,233.5" fill="none" stroke="#2a2a2a" stroke-width="1.3"/>
<path d="M384.4,222.4 C385.9,223.1 389.3,225.1 393.2,226.6 C397.1,228.1 403.0,230.2 407.8,231.4 C412.6,232.6 416.9,233.3 421.8,233.8 C426.7,234.3 431.6,234.3 437.0,234.4 C442.4,234.5 448.5,234.6 454.0,234.4 C459.5,234.2 464.7,233.7 470.0,233.0 C475.3,232.3 480.6,231.4 486.0,230.4 C491.4,229.4 499.8,227.5 502.5,226.9" fill="none" stroke="#2a2a2a" stroke-width="1.55" stroke-dasharray="9.8 4.8"/>
<path d="M384.4,239.4 C386.2,239.5 391.2,239.9 395.0,240.2 C398.8,240.4 402.0,240.7 407.0,240.9 C412.0,241.1 419.5,241.3 425.0,241.4 C430.5,241.5 435.2,241.6 440.0,241.6 C444.8,241.6 449.0,241.5 454.0,241.4 C459.0,241.3 464.7,241.2 470.0,241.0 C475.3,240.8 480.6,240.6 486.0,240.4 C491.4,240.2 499.8,239.7 502.5,239.6" fill="none" stroke="#2a2a2a" stroke-width="1.55" stroke-dasharray="9.8 4.8"/>
<path d="M504.2,233.4 C505.5,233.0 509.2,231.9 512.0,231.2 C514.8,230.5 517.6,229.8 520.8,229.2 C524.0,228.6 527.5,228.0 531.0,227.6 C534.5,227.2 537.3,226.7 541.6,226.5 C545.9,226.3 551.8,226.3 557.0,226.4 C562.2,226.5 567.6,226.8 572.8,227.1 C578.0,227.4 582.8,227.8 588.0,228.2 C593.2,228.6 598.4,228.9 604.0,229.6 C609.6,230.2 618.7,231.7 621.6,232.1" fill="none" stroke="#2a2a2a" stroke-width="1.3"/>
<path d="M504.2,224.4 C505.5,224.2 509.4,223.5 512.0,223.2 C514.6,222.9 516.8,222.6 520.0,222.4 C523.2,222.2 527.5,222.0 531.0,221.9 C534.5,221.8 536.7,221.7 541.0,221.7 C545.3,221.7 551.8,221.7 557.0,221.8 C562.2,221.9 566.8,222.0 572.0,222.1 C577.2,222.2 582.7,222.3 588.0,222.5 C593.3,222.7 598.9,222.8 604.0,223.0 C609.1,223.2 616.1,223.7 618.5,223.8" fill="none" stroke="#2a2a2a" stroke-width="1.55" stroke-dasharray="9.8 4.8"/>
<path d="M504.2,239.6 C505.5,239.2 509.4,237.8 512.0,237.0 C514.6,236.2 516.8,235.5 520.0,234.8 C523.2,234.1 527.5,233.2 531.0,232.6 C534.5,232.0 536.8,231.6 541.0,231.3 C545.2,231.0 550.8,230.7 556.0,230.7 C561.2,230.7 566.3,230.8 572.0,231.3 C577.7,231.8 584.7,233.0 590.0,233.8 C595.3,234.6 599.8,235.1 604.0,235.9 C608.2,236.7 613.2,238.0 615.0,238.4" fill="none" stroke="#2a2a2a" stroke-width="1.55" stroke-dasharray="9.8 4.8"/>
<rect x="49.1" y="31.1" width="247.6" height="246.9" fill="none" stroke="#454545" stroke-width="1.15"/>
<rect x="373.2" y="21.6" width="256.8" height="256.3" fill="none" stroke="#454545" stroke-width="1.15"/>
<path d="M56.9,278.0v5.3M56.9,31.1v-5.3M80.0,278.0v5.3M103.0,278.0v5.3M103.0,31.1v-5.3M126.1,278.0v5.3M149.2,278.0v5.3M149.2,31.1v-5.3M172.3,278.0v5.3M195.3,278.0v5.3M195.3,31.1v-5.3M218.4,278.0v5.3M241.5,278.0v5.3M241.5,31.1v-5.3M264.6,278.0v5.3M287.6,278.0v5.3M287.6,31.1v-5.3M49.1,269.9h-5.3M296.7,269.9h5.3M49.1,212.2h-5.3M296.7,212.2h5.3M49.1,154.5h-5.3M296.7,154.5h5.3M49.1,96.8h-5.3M296.7,96.8h5.3M49.1,39.1h-5.3M296.7,39.1h5.3" stroke="#454545" stroke-width="1.1" fill="none"/>
<path d="M49.1,236.4h-5.3M49.1,247.4h-5.3" stroke="#454545" stroke-width="1.1" fill="none"/>
<path d="M381.0,277.9v5.3M381.0,21.6v-5.3M406.0,277.9v5.3M406.0,21.6v-5.3M431.1,277.9v5.3M431.1,21.6v-5.3M456.1,277.9v5.3M456.1,21.6v-5.3M481.2,277.9v5.3M481.2,21.6v-5.3M506.2,277.9v5.3M506.2,21.6v-5.3M531.2,277.9v5.3M531.2,21.6v-5.3M556.3,277.9v5.3M556.3,21.6v-5.3M581.3,277.9v5.3M581.3,21.6v-5.3M606.4,277.9v5.3M606.4,21.6v-5.3M373.2,270.0h-5.3M630.0,270.0h5.3M373.2,209.8h-5.3M630.0,209.8h5.3M373.2,149.7h-5.3M630.0,149.7h5.3M373.2,89.5h-5.3M630.0,89.5h5.3M373.2,29.3h-5.3M630.0,29.3h5.3" stroke="#454545" stroke-width="1.1" fill="none"/>
<g fill="#1a1a1a" stroke="#1a1a1a" stroke-width="0.25" font-size="12px">
<text x="56.9" y="298.9" text-anchor="middle" textLength="7.1" lengthAdjust="spacingAndGlyphs">1</text>
<text x="80.0" y="298.9" text-anchor="middle" textLength="17.8" lengthAdjust="spacingAndGlyphs">1.5</text>
<text x="103.0" y="298.9" text-anchor="middle" textLength="7.1" lengthAdjust="spacingAndGlyphs">2</text>
<text x="126.1" y="298.9" text-anchor="middle" textLength="17.8" lengthAdjust="spacingAndGlyphs">2.5</text>
<text x="149.2" y="298.9" text-anchor="middle" textLength="7.1" lengthAdjust="spacingAndGlyphs">3</text>
<text x="172.3" y="298.9" text-anchor="middle" textLength="17.8" lengthAdjust="spacingAndGlyphs">3.5</text>
<text x="195.3" y="298.9" text-anchor="middle" textLength="7.1" lengthAdjust="spacingAndGlyphs">4</text>
<text x="218.4" y="298.9" text-anchor="middle" textLength="17.8" lengthAdjust="spacingAndGlyphs">4.5</text>
<text x="241.5" y="298.9" text-anchor="middle" textLength="7.1" lengthAdjust="spacingAndGlyphs">5</text>
<text x="264.6" y="298.9" text-anchor="middle" textLength="17.8" lengthAdjust="spacingAndGlyphs">5.5</text>
<text x="287.6" y="298.9" text-anchor="middle" textLength="7.1" lengthAdjust="spacingAndGlyphs">6</text>
<text x="381.0" y="298.9" text-anchor="middle" textLength="17.8" lengthAdjust="spacingAndGlyphs">3.5</text>
<text x="406.0" y="298.9" text-anchor="middle" textLength="7.1" lengthAdjust="spacingAndGlyphs">4</text>
<text x="431.1" y="298.9" text-anchor="middle" textLength="17.8" lengthAdjust="spacingAndGlyphs">4.5</text>
<text x="456.1" y="298.9" text-anchor="middle" textLength="7.1" lengthAdjust="spacingAndGlyphs">5</text>
<text x="481.2" y="298.9" text-anchor="middle" textLength="17.8" lengthAdjust="spacingAndGlyphs">5.5</text>
<text x="506.2" y="298.9" text-anchor="middle" textLength="7.1" lengthAdjust="spacingAndGlyphs">6</text>
<text x="531.2" y="298.9" text-anchor="middle" textLength="17.8" lengthAdjust="spacingAndGlyphs">6.5</text>
<text x="556.3" y="298.9" text-anchor="middle" textLength="7.1" lengthAdjust="spacingAndGlyphs">7</text>
<text x="581.3" y="298.9" text-anchor="middle" textLength="17.8" lengthAdjust="spacingAndGlyphs">7.5</text>
<text x="606.4" y="298.9" text-anchor="middle" textLength="7.1" lengthAdjust="spacingAndGlyphs">8</text>
<text x="37.7" y="274.2" text-anchor="end" textLength="7.1" lengthAdjust="spacingAndGlyphs">0</text>
<text x="37.7" y="216.5" text-anchor="end" textLength="14.3" lengthAdjust="spacingAndGlyphs">10</text>
<text x="37.7" y="158.8" text-anchor="end" textLength="14.3" lengthAdjust="spacingAndGlyphs">20</text>
<text x="37.7" y="101.1" text-anchor="end" textLength="14.3" lengthAdjust="spacingAndGlyphs">30</text>
<text x="37.7" y="43.4" text-anchor="end" textLength="14.3" lengthAdjust="spacingAndGlyphs">40</text>
<text x="37.7" y="240.7" text-anchor="end" textLength="17.8" lengthAdjust="spacingAndGlyphs">5.8</text>
<text x="37.7" y="251.7" text-anchor="end" textLength="17.8" lengthAdjust="spacingAndGlyphs">3.9</text>
<text x="361.9" y="274.3" text-anchor="end" textLength="7.1" lengthAdjust="spacingAndGlyphs">0</text>
<text x="361.9" y="214.1" text-anchor="end" textLength="14.3" lengthAdjust="spacingAndGlyphs">10</text>
<text x="361.9" y="154.0" text-anchor="end" textLength="14.3" lengthAdjust="spacingAndGlyphs">20</text>
<text x="361.9" y="93.8" text-anchor="end" textLength="14.3" lengthAdjust="spacingAndGlyphs">30</text>
<text x="361.9" y="33.6" text-anchor="end" textLength="14.3" lengthAdjust="spacingAndGlyphs">40</text>
<text x="172.9" y="9.2" text-anchor="middle" textLength="180.2" lengthAdjust="spacingAndGlyphs">Treatment Test: Threshold=3.51</text>
<text x="501.3" y="8.9" text-anchor="middle" textLength="169.4" lengthAdjust="spacingAndGlyphs">Placebo Test: Threshold=5.95</text>
<text x="172.6" y="320.2" text-anchor="middle" textLength="148" lengthAdjust="spacingAndGlyphs">Vote Share at Election t=0</text>
<text x="501.5" y="320.2" text-anchor="middle" textLength="148" lengthAdjust="spacingAndGlyphs">Vote Share at Election t=0</text>
<text x="10.0" y="153.9" text-anchor="middle" transform="rotate(-90 10.0 153.9)" textLength="147" lengthAdjust="spacingAndGlyphs">Vote Share at Election t=1</text>
<text x="336.3" y="149.4" text-anchor="middle" transform="rotate(-90 336.3 149.4)" textLength="147" lengthAdjust="spacingAndGlyphs">Vote Share at Election t=1</text>
</g>
</svg>
</body></html>
